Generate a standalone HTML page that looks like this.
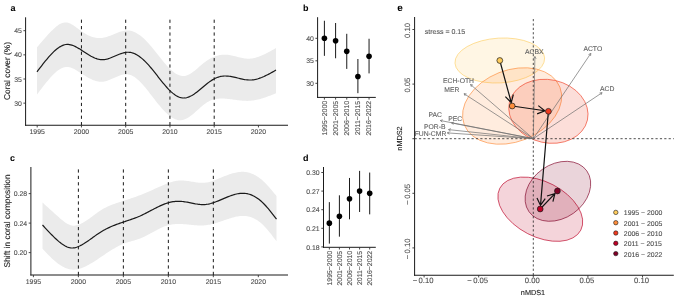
<!DOCTYPE html>
<html><head><meta charset="utf-8"><style>
html,body{margin:0;padding:0;background:#fff;}
svg{display:block;font-family:"Liberation Sans", sans-serif;will-change:transform;text-rendering:geometricPrecision;}
</style></head><body>
<svg width="685" height="300" viewBox="0 0 685 300">
<rect width="685" height="300" fill="#fff"/>
<path d="M37,47.3 L38.2,45.88 L39.4,44.47 L40.6,43.06 L41.8,41.66 L43.01,40.27 L44.21,38.89 L45.41,37.53 L46.61,36.19 L47.81,34.87 L49.01,33.58 L50.21,32.31 L51.41,31.08 L52.61,29.88 L53.81,28.73 L55.02,27.64 L56.22,26.62 L57.42,25.69 L58.62,24.84 L59.82,24.11 L61.02,23.49 L62.22,22.99 L63.42,22.64 L64.62,22.44 L65.82,22.41 L67.03,22.54 L68.23,22.82 L69.43,23.23 L70.63,23.76 L71.83,24.4 L73.03,25.12 L74.23,25.92 L75.43,26.76 L76.63,27.64 L77.83,28.55 L79.04,29.46 L80.24,30.36 L81.44,31.23 L82.64,32.06 L83.84,32.84 L85.04,33.58 L86.24,34.27 L87.44,34.9 L88.64,35.49 L89.84,36.02 L91.05,36.5 L92.25,36.92 L93.45,37.28 L94.65,37.58 L95.85,37.81 L97.05,37.98 L98.25,38.09 L99.45,38.12 L100.65,38.09 L101.85,37.98 L103.06,37.81 L104.26,37.56 L105.46,37.26 L106.66,36.91 L107.86,36.52 L109.06,36.09 L110.26,35.64 L111.46,35.16 L112.66,34.67 L113.86,34.17 L115.07,33.68 L116.27,33.19 L117.47,32.73 L118.67,32.28 L119.87,31.87 L121.07,31.49 L122.27,31.16 L123.47,30.89 L124.67,30.67 L125.87,30.53 L127.08,30.46 L128.28,30.47 L129.48,30.57 L130.68,30.77 L131.88,31.07 L133.08,31.46 L134.28,31.94 L135.48,32.5 L136.68,33.15 L137.88,33.88 L139.09,34.69 L140.29,35.57 L141.49,36.52 L142.69,37.54 L143.89,38.62 L145.09,39.76 L146.29,40.97 L147.49,42.22 L148.69,43.53 L149.89,44.88 L151.1,46.28 L152.3,47.71 L153.5,49.18 L154.7,50.67 L155.9,52.18 L157.1,53.69 L158.3,55.22 L159.5,56.74 L160.7,58.25 L161.9,59.74 L163.11,61.21 L164.31,62.65 L165.51,64.05 L166.71,65.41 L167.91,66.72 L169.11,67.97 L170.31,69.16 L171.51,70.27 L172.71,71.31 L173.91,72.26 L175.12,73.13 L176.32,73.89 L177.52,74.55 L178.72,75.09 L179.92,75.52 L181.12,75.83 L182.32,76 L183.52,76.03 L184.72,75.91 L185.92,75.66 L187.13,75.27 L188.33,74.77 L189.53,74.16 L190.73,73.46 L191.93,72.67 L193.13,71.81 L194.33,70.9 L195.53,69.93 L196.73,68.93 L197.93,67.9 L199.14,66.86 L200.34,65.83 L201.54,64.8 L202.74,63.79 L203.94,62.82 L205.14,61.89 L206.34,61.02 L207.54,60.21 L208.74,59.45 L209.94,58.75 L211.15,58.1 L212.35,57.51 L213.55,56.97 L214.75,56.49 L215.95,56.07 L217.15,55.7 L218.35,55.38 L219.55,55.12 L220.75,54.92 L221.95,54.77 L223.16,54.67 L224.36,54.63 L225.56,54.64 L226.76,54.7 L227.96,54.82 L229.16,54.99 L230.36,55.19 L231.56,55.43 L232.76,55.7 L233.96,55.99 L235.17,56.29 L236.37,56.6 L237.57,56.91 L238.77,57.22 L239.97,57.51 L241.17,57.79 L242.37,58.04 L243.57,58.26 L244.77,58.44 L245.97,58.58 L247.18,58.67 L248.38,58.7 L249.58,58.67 L250.78,58.59 L251.98,58.44 L253.18,58.25 L254.38,58 L255.58,57.71 L256.78,57.37 L257.98,56.99 L259.19,56.57 L260.39,56.11 L261.59,55.62 L262.79,55.1 L263.99,54.54 L265.19,53.97 L266.39,53.36 L267.59,52.74 L268.79,52.1 L269.99,51.44 L271.2,50.77 L272.4,50.08 L273.6,49.39 L274.8,48.7 L276,48 L276,93.3 L274.8,93.78 L273.6,94.26 L272.4,94.73 L271.2,95.2 L269.99,95.67 L268.79,96.12 L267.59,96.56 L266.39,97 L265.19,97.41 L263.99,97.82 L262.79,98.2 L261.59,98.57 L260.39,98.92 L259.19,99.24 L257.98,99.54 L256.78,99.82 L255.58,100.06 L254.38,100.28 L253.18,100.47 L251.98,100.62 L250.78,100.74 L249.58,100.83 L248.38,100.87 L247.18,100.89 L245.97,100.87 L244.77,100.83 L243.57,100.76 L242.37,100.67 L241.17,100.56 L239.97,100.44 L238.77,100.3 L237.57,100.14 L236.37,99.99 L235.17,99.82 L233.96,99.66 L232.76,99.49 L231.56,99.33 L230.36,99.17 L229.16,99.02 L227.96,98.89 L226.76,98.77 L225.56,98.66 L224.36,98.58 L223.16,98.52 L221.95,98.49 L220.75,98.5 L219.55,98.54 L218.35,98.63 L217.15,98.77 L215.95,98.95 L214.75,99.2 L213.55,99.5 L212.35,99.87 L211.15,100.31 L209.94,100.82 L208.74,101.42 L207.54,102.09 L206.34,102.85 L205.14,103.69 L203.94,104.59 L202.74,105.54 L201.54,106.54 L200.34,107.58 L199.14,108.63 L197.93,109.7 L196.73,110.77 L195.53,111.84 L194.33,112.88 L193.13,113.9 L191.93,114.88 L190.73,115.81 L189.53,116.67 L188.33,117.47 L187.13,118.19 L185.92,118.82 L184.72,119.34 L183.52,119.75 L182.32,120.04 L181.12,120.2 L179.92,120.23 L178.72,120.13 L177.52,119.91 L176.32,119.57 L175.12,119.13 L173.91,118.57 L172.71,117.92 L171.51,117.17 L170.31,116.33 L169.11,115.41 L167.91,114.41 L166.71,113.33 L165.51,112.18 L164.31,110.97 L163.11,109.7 L161.9,108.38 L160.7,107.01 L159.5,105.6 L158.3,104.14 L157.1,102.66 L155.9,101.15 L154.7,99.61 L153.5,98.06 L152.3,96.5 L151.1,94.94 L149.89,93.38 L148.69,91.84 L147.49,90.31 L146.29,88.82 L145.09,87.35 L143.89,85.93 L142.69,84.55 L141.49,83.23 L140.29,81.97 L139.09,80.78 L137.88,79.67 L136.68,78.64 L135.48,77.71 L134.28,76.87 L133.08,76.14 L131.88,75.51 L130.68,75.01 L129.48,74.64 L128.28,74.4 L127.08,74.27 L125.87,74.26 L124.67,74.35 L123.47,74.53 L122.27,74.79 L121.07,75.12 L119.87,75.51 L118.67,75.95 L117.47,76.43 L116.27,76.94 L115.07,77.47 L113.86,78.01 L112.66,78.56 L111.46,79.09 L110.26,79.6 L109.06,80.08 L107.86,80.52 L106.66,80.91 L105.46,81.24 L104.26,81.5 L103.06,81.67 L101.85,81.76 L100.65,81.76 L99.45,81.68 L98.25,81.51 L97.05,81.27 L95.85,80.96 L94.65,80.59 L93.45,80.15 L92.25,79.66 L91.05,79.12 L89.84,78.53 L88.64,77.9 L87.44,77.23 L86.24,76.54 L85.04,75.81 L83.84,75.06 L82.64,74.3 L81.44,73.52 L80.24,72.74 L79.04,71.96 L77.83,71.2 L76.63,70.46 L75.43,69.76 L74.23,69.11 L73.03,68.53 L71.83,68.01 L70.63,67.59 L69.43,67.26 L68.23,67.04 L67.03,66.94 L65.82,66.97 L64.62,67.14 L63.42,67.46 L62.22,67.9 L61.02,68.48 L59.82,69.17 L58.62,69.96 L57.42,70.86 L56.22,71.85 L55.02,72.92 L53.81,74.07 L52.61,75.28 L51.41,76.55 L50.21,77.87 L49.01,79.24 L47.81,80.65 L46.61,82.1 L45.41,83.58 L44.21,85.08 L43.01,86.62 L41.8,88.17 L40.6,89.74 L39.4,91.32 L38.2,92.91 L37,94.5Z" fill="#ebebeb" stroke="none"/>
<line x1="81.45" y1="125.25" x2="81.45" y2="17.3" stroke="#1a1a1a" stroke-width="1.0" stroke-dasharray="3.2,3.2"/>
<line x1="125.7" y1="125.25" x2="125.7" y2="17.3" stroke="#1a1a1a" stroke-width="1.0" stroke-dasharray="3.2,3.2"/>
<line x1="169.95" y1="125.25" x2="169.95" y2="17.3" stroke="#1a1a1a" stroke-width="1.0" stroke-dasharray="3.2,3.2"/>
<line x1="214.2" y1="125.25" x2="214.2" y2="17.3" stroke="#1a1a1a" stroke-width="1.0" stroke-dasharray="3.2,3.2"/>
<path d="M37,71.8 L38.2,70.22 L39.4,68.64 L40.6,67.07 L41.8,65.51 L43.01,63.97 L44.21,62.46 L45.41,60.97 L46.61,59.51 L47.81,58.08 L49.01,56.7 L50.21,55.36 L51.41,54.06 L52.61,52.82 L53.81,51.64 L55.02,50.53 L56.22,49.49 L57.42,48.52 L58.62,47.65 L59.82,46.86 L61.02,46.17 L62.22,45.59 L63.42,45.11 L64.62,44.76 L65.82,44.52 L67.03,44.42 L68.23,44.44 L69.43,44.57 L70.63,44.8 L71.83,45.13 L73.03,45.55 L74.23,46.05 L75.43,46.61 L76.63,47.23 L77.83,47.9 L79.04,48.61 L80.24,49.36 L81.44,50.12 L82.64,50.9 L83.84,51.69 L85.04,52.48 L86.24,53.26 L87.44,54.02 L88.64,54.77 L89.84,55.48 L91.05,56.17 L92.25,56.81 L93.45,57.41 L94.65,57.95 L95.85,58.44 L97.05,58.85 L98.25,59.19 L99.45,59.45 L100.65,59.63 L101.85,59.7 L103.06,59.69 L104.26,59.58 L105.46,59.39 L106.66,59.13 L107.86,58.8 L109.06,58.42 L110.26,58 L111.46,57.54 L112.66,57.05 L113.86,56.54 L115.07,56.02 L116.27,55.5 L117.47,54.99 L118.67,54.5 L119.87,54.03 L121.07,53.6 L122.27,53.21 L123.47,52.88 L124.67,52.6 L125.87,52.4 L127.08,52.27 L128.28,52.24 L129.48,52.3 L130.68,52.46 L131.88,52.73 L133.08,53.1 L134.28,53.56 L135.48,54.11 L136.68,54.75 L137.88,55.48 L139.09,56.29 L140.29,57.17 L141.49,58.13 L142.69,59.16 L143.89,60.25 L145.09,61.4 L146.29,62.62 L147.49,63.89 L148.69,65.21 L149.89,66.58 L151.1,67.99 L152.3,69.44 L153.5,70.92 L154.7,72.42 L155.9,73.94 L157.1,75.48 L158.3,77.01 L159.5,78.54 L160.7,80.06 L161.9,81.56 L163.11,83.04 L164.31,84.48 L165.51,85.89 L166.71,87.25 L167.91,88.56 L169.11,89.82 L170.31,91 L171.51,92.11 L172.71,93.15 L173.91,94.1 L175.12,94.96 L176.32,95.73 L177.52,96.4 L178.72,96.96 L179.92,97.4 L181.12,97.73 L182.32,97.94 L183.52,98.02 L184.72,97.97 L185.92,97.8 L187.13,97.51 L188.33,97.12 L189.53,96.64 L190.73,96.07 L191.93,95.41 L193.13,94.69 L194.33,93.9 L195.53,93.05 L196.73,92.16 L197.93,91.23 L199.14,90.26 L200.34,89.28 L201.54,88.27 L202.74,87.26 L203.94,86.25 L205.14,85.25 L206.34,84.27 L207.54,83.31 L208.74,82.38 L209.94,81.49 L211.15,80.66 L212.35,79.88 L213.55,79.16 L214.75,78.52 L215.95,77.96 L217.15,77.47 L218.35,77.06 L219.55,76.72 L220.75,76.45 L221.95,76.24 L223.16,76.1 L224.36,76.02 L225.56,76 L226.76,76.04 L227.96,76.13 L229.16,76.26 L230.36,76.43 L231.56,76.64 L232.76,76.88 L233.96,77.13 L235.17,77.41 L236.37,77.7 L237.57,77.99 L238.77,78.28 L239.97,78.57 L241.17,78.85 L242.37,79.11 L243.57,79.35 L244.77,79.56 L245.97,79.74 L247.18,79.87 L248.38,79.97 L249.58,80.01 L250.78,80 L251.98,79.92 L253.18,79.79 L254.38,79.61 L255.58,79.37 L256.78,79.08 L257.98,78.74 L259.19,78.36 L260.39,77.94 L261.59,77.49 L262.79,76.99 L263.99,76.47 L265.19,75.91 L266.39,75.33 L267.59,74.73 L268.79,74.11 L269.99,73.47 L271.2,72.81 L272.4,72.14 L273.6,71.47 L274.8,70.78 L276,70.1" fill="none" stroke="#1a1a1a" stroke-width="1.2"/>
<line x1="25.6" y1="17.3" x2="25.6" y2="125.75" stroke="#1a1a1a" stroke-width="1.0"/>
<line x1="25.1" y1="125.25" x2="288" y2="125.25" stroke="#1a1a1a" stroke-width="1.0"/>
<line x1="23.4" y1="103.15" x2="25.6" y2="103.15" stroke="#333" stroke-width="0.9"/>
<text x="21.8" y="105.75" font-size="6.9" text-anchor="end" fill="#4d4d4d" font-weight="normal" stroke="#4d4d4d" stroke-width="0.1">30</text>
<line x1="23.4" y1="79" x2="25.6" y2="79" stroke="#333" stroke-width="0.9"/>
<text x="21.8" y="81.6" font-size="6.9" text-anchor="end" fill="#4d4d4d" font-weight="normal" stroke="#4d4d4d" stroke-width="0.1">35</text>
<line x1="23.4" y1="54.85" x2="25.6" y2="54.85" stroke="#333" stroke-width="0.9"/>
<text x="21.8" y="57.45" font-size="6.9" text-anchor="end" fill="#4d4d4d" font-weight="normal" stroke="#4d4d4d" stroke-width="0.1">40</text>
<line x1="23.4" y1="30.7" x2="25.6" y2="30.7" stroke="#333" stroke-width="0.9"/>
<text x="21.8" y="33.3" font-size="6.9" text-anchor="end" fill="#4d4d4d" font-weight="normal" stroke="#4d4d4d" stroke-width="0.1">45</text>
<line x1="37.2" y1="125.25" x2="37.2" y2="127.45" stroke="#333" stroke-width="0.9"/>
<text x="37.2" y="133.6" font-size="6.9" text-anchor="middle" fill="#4d4d4d" font-weight="normal" stroke="#4d4d4d" stroke-width="0.1">1995</text>
<line x1="81.45" y1="125.25" x2="81.45" y2="127.45" stroke="#333" stroke-width="0.9"/>
<text x="81.45" y="133.6" font-size="6.9" text-anchor="middle" fill="#4d4d4d" font-weight="normal" stroke="#4d4d4d" stroke-width="0.1">2000</text>
<line x1="125.7" y1="125.25" x2="125.7" y2="127.45" stroke="#333" stroke-width="0.9"/>
<text x="125.7" y="133.6" font-size="6.9" text-anchor="middle" fill="#4d4d4d" font-weight="normal" stroke="#4d4d4d" stroke-width="0.1">2005</text>
<line x1="169.95" y1="125.25" x2="169.95" y2="127.45" stroke="#333" stroke-width="0.9"/>
<text x="169.95" y="133.6" font-size="6.9" text-anchor="middle" fill="#4d4d4d" font-weight="normal" stroke="#4d4d4d" stroke-width="0.1">2010</text>
<line x1="214.2" y1="125.25" x2="214.2" y2="127.45" stroke="#333" stroke-width="0.9"/>
<text x="214.2" y="133.6" font-size="6.9" text-anchor="middle" fill="#4d4d4d" font-weight="normal" stroke="#4d4d4d" stroke-width="0.1">2015</text>
<line x1="258.45" y1="125.25" x2="258.45" y2="127.45" stroke="#333" stroke-width="0.9"/>
<text x="258.45" y="133.6" font-size="6.9" text-anchor="middle" fill="#4d4d4d" font-weight="normal" stroke="#4d4d4d" stroke-width="0.1">2020</text>
<text x="10.5" y="10.6" font-size="9" text-anchor="start" fill="#000" font-weight="bold">a</text>
<text x="10" y="71" font-size="8.4" text-anchor="middle" fill="#1a1a1a" font-weight="normal" stroke="#1a1a1a" stroke-width="0.1" transform="rotate(-90 10 71)">Coral cover (%)</text>
<path d="M42.5,202.5 L43.68,203.57 L44.85,204.64 L46.03,205.71 L47.2,206.78 L48.38,207.85 L49.56,208.91 L50.73,209.98 L51.91,211.04 L53.08,212.1 L54.26,213.16 L55.43,214.21 L56.61,215.26 L57.79,216.31 L58.96,217.35 L60.14,218.38 L61.31,219.39 L62.49,220.36 L63.67,221.28 L64.84,222.15 L66.02,222.94 L67.19,223.66 L68.37,224.28 L69.55,224.8 L70.72,225.2 L71.9,225.48 L73.07,225.63 L74.25,225.64 L75.42,225.54 L76.6,225.33 L77.78,225.02 L78.95,224.62 L80.13,224.14 L81.3,223.6 L82.48,222.99 L83.66,222.33 L84.83,221.61 L86.01,220.85 L87.18,220.06 L88.36,219.24 L89.54,218.39 L90.71,217.52 L91.89,216.64 L93.06,215.76 L94.24,214.88 L95.41,214.01 L96.59,213.15 L97.77,212.31 L98.94,211.5 L100.12,210.72 L101.29,209.98 L102.47,209.28 L103.65,208.62 L104.82,207.98 L106,207.38 L107.17,206.81 L108.35,206.26 L109.53,205.74 L110.7,205.25 L111.88,204.77 L113.05,204.32 L114.23,203.88 L115.4,203.45 L116.58,203.04 L117.76,202.65 L118.93,202.26 L120.11,201.88 L121.28,201.5 L122.46,201.13 L123.64,200.76 L124.81,200.39 L125.99,200.02 L127.16,199.64 L128.34,199.27 L129.52,198.89 L130.69,198.5 L131.87,198.11 L133.04,197.71 L134.22,197.31 L135.39,196.9 L136.57,196.48 L137.75,196.05 L138.92,195.61 L140.1,195.16 L141.27,194.7 L142.45,194.23 L143.63,193.74 L144.8,193.25 L145.98,192.75 L147.15,192.24 L148.33,191.73 L149.51,191.21 L150.68,190.68 L151.86,190.16 L153.03,189.63 L154.21,189.1 L155.38,188.57 L156.56,188.04 L157.74,187.51 L158.91,186.98 L160.09,186.46 L161.26,185.94 L162.44,185.43 L163.62,184.93 L164.79,184.45 L165.97,183.97 L167.14,183.52 L168.32,183.09 L169.49,182.68 L170.67,182.29 L171.85,181.94 L173.02,181.62 L174.2,181.33 L175.37,181.08 L176.55,180.87 L177.73,180.7 L178.9,180.57 L180.08,180.5 L181.25,180.47 L182.43,180.49 L183.61,180.54 L184.78,180.64 L185.96,180.76 L187.13,180.91 L188.31,181.08 L189.48,181.26 L190.66,181.45 L191.84,181.65 L193.01,181.85 L194.19,182.04 L195.36,182.22 L196.54,182.39 L197.72,182.54 L198.89,182.66 L200.07,182.75 L201.24,182.81 L202.42,182.83 L203.6,182.8 L204.77,182.72 L205.95,182.59 L207.12,182.4 L208.3,182.17 L209.47,181.89 L210.65,181.57 L211.83,181.22 L213,180.83 L214.18,180.42 L215.35,179.98 L216.53,179.52 L217.71,179.05 L218.88,178.56 L220.06,178.07 L221.23,177.57 L222.41,177.07 L223.59,176.58 L224.76,176.1 L225.94,175.63 L227.11,175.17 L228.29,174.74 L229.46,174.32 L230.64,173.93 L231.82,173.56 L232.99,173.22 L234.17,172.92 L235.34,172.64 L236.52,172.41 L237.7,172.2 L238.87,172.05 L240.05,171.93 L241.22,171.86 L242.4,171.83 L243.58,171.86 L244.75,171.94 L245.93,172.08 L247.1,172.27 L248.28,172.52 L249.45,172.83 L250.63,173.2 L251.81,173.63 L252.98,174.12 L254.16,174.68 L255.33,175.29 L256.51,175.97 L257.69,176.71 L258.86,177.52 L260.04,178.39 L261.21,179.33 L262.39,180.34 L263.57,181.41 L264.74,182.55 L265.92,183.74 L267.09,184.97 L268.27,186.26 L269.44,187.58 L270.62,188.93 L271.8,190.31 L272.97,191.71 L274.15,193.13 L275.32,194.56 L276.5,196 L276.5,241.3 L275.32,239.73 L274.15,238.17 L272.97,236.63 L271.8,235.1 L270.62,233.6 L269.44,232.13 L268.27,230.7 L267.09,229.32 L265.92,227.98 L264.74,226.71 L263.57,225.5 L262.39,224.36 L261.21,223.3 L260.04,222.32 L258.86,221.41 L257.69,220.58 L256.51,219.83 L255.33,219.14 L254.16,218.53 L252.98,217.99 L251.81,217.51 L250.63,217.1 L249.45,216.76 L248.28,216.47 L247.1,216.25 L245.93,216.09 L244.75,215.98 L243.58,215.93 L242.4,215.94 L241.22,215.99 L240.05,216.08 L238.87,216.23 L237.7,216.41 L236.52,216.62 L235.34,216.87 L234.17,217.15 L232.99,217.46 L231.82,217.79 L230.64,218.14 L229.46,218.51 L228.29,218.89 L227.11,219.28 L225.94,219.68 L224.76,220.08 L223.59,220.49 L222.41,220.89 L221.23,221.29 L220.06,221.69 L218.88,222.07 L217.71,222.45 L216.53,222.82 L215.35,223.17 L214.18,223.5 L213,223.82 L211.83,224.11 L210.65,224.38 L209.47,224.63 L208.3,224.85 L207.12,225.04 L205.95,225.2 L204.77,225.32 L203.6,225.41 L202.42,225.47 L201.24,225.49 L200.07,225.49 L198.89,225.47 L197.72,225.42 L196.54,225.36 L195.36,225.28 L194.19,225.18 L193.01,225.08 L191.84,224.96 L190.66,224.84 L189.48,224.72 L188.31,224.6 L187.13,224.49 L185.96,224.37 L184.78,224.27 L183.61,224.18 L182.43,224.1 L181.25,224.04 L180.08,224 L178.9,223.98 L177.73,223.99 L176.55,224.02 L175.37,224.09 L174.2,224.18 L173.02,224.31 L171.85,224.47 L170.67,224.68 L169.49,224.92 L168.32,225.21 L167.14,225.55 L165.97,225.93 L164.79,226.35 L163.62,226.81 L162.44,227.3 L161.26,227.82 L160.09,228.37 L158.91,228.94 L157.74,229.54 L156.56,230.15 L155.38,230.77 L154.21,231.4 L153.03,232.04 L151.86,232.68 L150.68,233.32 L149.51,233.95 L148.33,234.58 L147.15,235.2 L145.98,235.8 L144.8,236.38 L143.63,236.94 L142.45,237.48 L141.27,237.99 L140.1,238.46 L138.92,238.9 L137.75,239.31 L136.57,239.7 L135.39,240.06 L134.22,240.41 L133.04,240.75 L131.87,241.08 L130.69,241.41 L129.52,241.75 L128.34,242.1 L127.16,242.46 L125.99,242.84 L124.81,243.25 L123.64,243.7 L122.46,244.17 L121.28,244.69 L120.11,245.23 L118.93,245.81 L117.76,246.42 L116.58,247.05 L115.4,247.71 L114.23,248.39 L113.05,249.09 L111.88,249.81 L110.7,250.54 L109.53,251.29 L108.35,252.06 L107.17,252.83 L106,253.61 L104.82,254.4 L103.65,255.19 L102.47,255.99 L101.29,256.78 L100.12,257.57 L98.94,258.36 L97.77,259.14 L96.59,259.92 L95.41,260.68 L94.24,261.43 L93.06,262.17 L91.89,262.89 L90.71,263.59 L89.54,264.27 L88.36,264.92 L87.18,265.55 L86.01,266.15 L84.83,266.71 L83.66,267.24 L82.48,267.73 L81.3,268.16 L80.13,268.55 L78.95,268.89 L77.78,269.17 L76.6,269.39 L75.42,269.54 L74.25,269.63 L73.07,269.65 L71.9,269.59 L70.72,269.46 L69.55,269.24 L68.37,268.96 L67.19,268.6 L66.02,268.17 L64.84,267.68 L63.67,267.12 L62.49,266.49 L61.31,265.81 L60.14,265.06 L58.96,264.26 L57.79,263.4 L56.61,262.49 L55.43,261.53 L54.26,260.52 L53.08,259.47 L51.91,258.38 L50.73,257.25 L49.56,256.09 L48.38,254.91 L47.2,253.7 L46.03,252.48 L44.85,251.24 L43.68,250 L42.5,248.75Z" fill="#ebebeb" stroke="none"/>
<line x1="78.38" y1="275" x2="78.38" y2="167" stroke="#1a1a1a" stroke-width="1.0" stroke-dasharray="3.2,3.2"/>
<line x1="123.37" y1="275" x2="123.37" y2="167" stroke="#1a1a1a" stroke-width="1.0" stroke-dasharray="3.2,3.2"/>
<line x1="168.35" y1="275" x2="168.35" y2="167" stroke="#1a1a1a" stroke-width="1.0" stroke-dasharray="3.2,3.2"/>
<line x1="213.34" y1="275" x2="213.34" y2="167" stroke="#1a1a1a" stroke-width="1.0" stroke-dasharray="3.2,3.2"/>
<path d="M42.5,225 L43.68,226.28 L44.85,227.56 L46.03,228.84 L47.2,230.1 L48.38,231.35 L49.56,232.59 L50.73,233.82 L51.91,235.02 L53.08,236.19 L54.26,237.35 L55.43,238.47 L56.61,239.56 L57.79,240.62 L58.96,241.63 L60.14,242.59 L61.31,243.5 L62.49,244.34 L63.67,245.11 L64.84,245.81 L66.02,246.42 L67.19,246.94 L68.37,247.37 L69.55,247.69 L70.72,247.9 L71.9,248 L73.07,247.97 L74.25,247.83 L75.42,247.57 L76.6,247.22 L77.78,246.8 L78.95,246.3 L80.13,245.75 L81.3,245.15 L82.48,244.49 L83.66,243.8 L84.83,243.07 L86.01,242.3 L87.18,241.51 L88.36,240.7 L89.54,239.87 L90.71,239.02 L91.89,238.17 L93.06,237.32 L94.24,236.47 L95.41,235.62 L96.59,234.79 L97.77,233.98 L98.94,233.19 L100.12,232.42 L101.29,231.69 L102.47,230.99 L103.65,230.32 L104.82,229.67 L106,229.05 L107.17,228.46 L108.35,227.89 L109.53,227.34 L110.7,226.81 L111.88,226.3 L113.05,225.81 L114.23,225.34 L115.4,224.88 L116.58,224.43 L117.76,224 L118.93,223.57 L120.11,223.16 L121.28,222.75 L122.46,222.35 L123.64,221.95 L124.81,221.56 L125.99,221.17 L127.16,220.78 L128.34,220.39 L129.52,220 L130.69,219.59 L131.87,219.18 L133.04,218.77 L134.22,218.34 L135.39,217.89 L136.57,217.44 L137.75,216.96 L138.92,216.47 L140.1,215.96 L141.27,215.42 L142.45,214.87 L143.63,214.3 L144.8,213.71 L145.98,213.11 L147.15,212.51 L148.33,211.89 L149.51,211.27 L150.68,210.65 L151.86,210.03 L153.03,209.41 L154.21,208.8 L155.38,208.19 L156.56,207.6 L157.74,207.02 L158.91,206.45 L160.09,205.9 L161.26,205.37 L162.44,204.86 L163.62,204.38 L164.79,203.93 L165.97,203.5 L167.14,203.11 L168.32,202.75 L169.49,202.43 L170.67,202.15 L171.85,201.91 L173.02,201.7 L174.2,201.54 L175.37,201.41 L176.55,201.32 L177.73,201.28 L178.9,201.27 L180.08,201.3 L181.25,201.38 L182.43,201.49 L183.61,201.63 L184.78,201.8 L185.96,202 L187.13,202.21 L188.31,202.43 L189.48,202.67 L190.66,202.91 L191.84,203.15 L193.01,203.38 L194.19,203.61 L195.36,203.83 L196.54,204.02 L197.72,204.2 L198.89,204.35 L200.07,204.47 L201.24,204.55 L202.42,204.59 L203.6,204.59 L204.77,204.54 L205.95,204.44 L207.12,204.28 L208.3,204.07 L209.47,203.82 L210.65,203.53 L211.83,203.2 L213,202.83 L214.18,202.43 L215.35,202.01 L216.53,201.56 L217.71,201.1 L218.88,200.62 L220.06,200.12 L221.23,199.62 L222.41,199.11 L223.59,198.61 L224.76,198.1 L225.94,197.6 L227.11,197.12 L228.29,196.64 L229.46,196.19 L230.64,195.75 L231.82,195.34 L232.99,194.96 L234.17,194.6 L235.34,194.28 L236.52,194 L237.7,193.76 L238.87,193.56 L240.05,193.41 L241.22,193.31 L242.4,193.27 L243.58,193.28 L244.75,193.35 L245.93,193.49 L247.1,193.69 L248.28,193.96 L249.45,194.29 L250.63,194.68 L251.81,195.14 L252.98,195.67 L254.16,196.26 L255.33,196.93 L256.51,197.66 L257.69,198.46 L258.86,199.33 L260.04,200.27 L261.21,201.28 L262.39,202.37 L263.57,203.52 L264.74,204.74 L265.92,206.02 L267.09,207.35 L268.27,208.73 L269.44,210.15 L270.62,211.6 L271.8,213.09 L272.97,214.6 L274.15,216.12 L275.32,217.66 L276.5,219.2" fill="none" stroke="#1a1a1a" stroke-width="1.2"/>
<line x1="30.9" y1="167" x2="30.9" y2="275.5" stroke="#1a1a1a" stroke-width="1.0"/>
<line x1="30.4" y1="275" x2="288" y2="275" stroke="#1a1a1a" stroke-width="1.0"/>
<line x1="28.7" y1="252.6" x2="30.9" y2="252.6" stroke="#333" stroke-width="0.9"/>
<text x="27.1" y="255.2" font-size="6.9" text-anchor="end" fill="#4d4d4d" font-weight="normal" stroke="#4d4d4d" stroke-width="0.1">0.20</text>
<line x1="28.7" y1="223.1" x2="30.9" y2="223.1" stroke="#333" stroke-width="0.9"/>
<text x="27.1" y="225.7" font-size="6.9" text-anchor="end" fill="#4d4d4d" font-weight="normal" stroke="#4d4d4d" stroke-width="0.1">0.24</text>
<line x1="28.7" y1="193.6" x2="30.9" y2="193.6" stroke="#333" stroke-width="0.9"/>
<text x="27.1" y="196.2" font-size="6.9" text-anchor="end" fill="#4d4d4d" font-weight="normal" stroke="#4d4d4d" stroke-width="0.1">0.28</text>
<line x1="33.4" y1="275" x2="33.4" y2="277.2" stroke="#333" stroke-width="0.9"/>
<text x="33.4" y="283.5" font-size="6.9" text-anchor="middle" fill="#4d4d4d" font-weight="normal" stroke="#4d4d4d" stroke-width="0.1">1995</text>
<line x1="78.38" y1="275" x2="78.38" y2="277.2" stroke="#333" stroke-width="0.9"/>
<text x="78.38" y="283.5" font-size="6.9" text-anchor="middle" fill="#4d4d4d" font-weight="normal" stroke="#4d4d4d" stroke-width="0.1">2000</text>
<line x1="123.37" y1="275" x2="123.37" y2="277.2" stroke="#333" stroke-width="0.9"/>
<text x="123.37" y="283.5" font-size="6.9" text-anchor="middle" fill="#4d4d4d" font-weight="normal" stroke="#4d4d4d" stroke-width="0.1">2005</text>
<line x1="168.35" y1="275" x2="168.35" y2="277.2" stroke="#333" stroke-width="0.9"/>
<text x="168.35" y="283.5" font-size="6.9" text-anchor="middle" fill="#4d4d4d" font-weight="normal" stroke="#4d4d4d" stroke-width="0.1">2010</text>
<line x1="213.34" y1="275" x2="213.34" y2="277.2" stroke="#333" stroke-width="0.9"/>
<text x="213.34" y="283.5" font-size="6.9" text-anchor="middle" fill="#4d4d4d" font-weight="normal" stroke="#4d4d4d" stroke-width="0.1">2015</text>
<line x1="258.32" y1="275" x2="258.32" y2="277.2" stroke="#333" stroke-width="0.9"/>
<text x="258.32" y="283.5" font-size="6.9" text-anchor="middle" fill="#4d4d4d" font-weight="normal" stroke="#4d4d4d" stroke-width="0.1">2020</text>
<text x="10" y="160.5" font-size="9" text-anchor="start" fill="#000" font-weight="bold">c</text>
<text x="10" y="220.9" font-size="8.4" text-anchor="middle" fill="#1a1a1a" font-weight="normal" stroke="#1a1a1a" stroke-width="0.1" transform="rotate(-90 10 220.9)">Shift in coral composition</text>
<line x1="324.4" y1="20.75" x2="324.4" y2="55.85" stroke="#1a1a1a" stroke-width="1.0"/>
<circle cx="324.4" cy="38.3" r="2.8" fill="#000"/>
<line x1="335.6" y1="23" x2="335.6" y2="58.28" stroke="#1a1a1a" stroke-width="1.0"/>
<circle cx="335.6" cy="40.82" r="2.8" fill="#000"/>
<line x1="346.75" y1="33.8" x2="346.75" y2="68.9" stroke="#1a1a1a" stroke-width="1.0"/>
<circle cx="346.75" cy="51.35" r="2.8" fill="#000"/>
<line x1="357.9" y1="59" x2="357.9" y2="93.2" stroke="#1a1a1a" stroke-width="1.0"/>
<circle cx="357.9" cy="76.55" r="2.8" fill="#000"/>
<line x1="369.05" y1="38.75" x2="369.05" y2="73.4" stroke="#1a1a1a" stroke-width="1.0"/>
<circle cx="369.05" cy="56.3" r="2.8" fill="#000"/>
<line x1="317.6" y1="17.2" x2="317.6" y2="97.9" stroke="#1a1a1a" stroke-width="1.0"/>
<line x1="317.1" y1="97.4" x2="375.8" y2="97.4" stroke="#1a1a1a" stroke-width="1.0"/>
<line x1="315.4" y1="83.3" x2="317.6" y2="83.3" stroke="#333" stroke-width="0.9"/>
<text x="313.8" y="85.9" font-size="6.9" text-anchor="end" fill="#4d4d4d" font-weight="normal" stroke="#4d4d4d" stroke-width="0.1">30</text>
<line x1="315.4" y1="60.8" x2="317.6" y2="60.8" stroke="#333" stroke-width="0.9"/>
<text x="313.8" y="63.4" font-size="6.9" text-anchor="end" fill="#4d4d4d" font-weight="normal" stroke="#4d4d4d" stroke-width="0.1">35</text>
<line x1="315.4" y1="38.3" x2="317.6" y2="38.3" stroke="#333" stroke-width="0.9"/>
<text x="313.8" y="40.9" font-size="6.9" text-anchor="end" fill="#4d4d4d" font-weight="normal" stroke="#4d4d4d" stroke-width="0.1">40</text>
<line x1="324.4" y1="97.4" x2="324.4" y2="99.6" stroke="#333" stroke-width="0.9"/>
<text x="326.7" y="100.9" font-size="6.9" text-anchor="end" fill="#4d4d4d" font-weight="normal" stroke="#4d4d4d" stroke-width="0.1" transform="rotate(-90 326.7 100.9)">1995−2000</text>
<line x1="335.6" y1="97.4" x2="335.6" y2="99.6" stroke="#333" stroke-width="0.9"/>
<text x="337.9" y="100.9" font-size="6.9" text-anchor="end" fill="#4d4d4d" font-weight="normal" stroke="#4d4d4d" stroke-width="0.1" transform="rotate(-90 337.9 100.9)">2001−2005</text>
<line x1="346.75" y1="97.4" x2="346.75" y2="99.6" stroke="#333" stroke-width="0.9"/>
<text x="349.05" y="100.9" font-size="6.9" text-anchor="end" fill="#4d4d4d" font-weight="normal" stroke="#4d4d4d" stroke-width="0.1" transform="rotate(-90 349.05 100.9)">2006−2010</text>
<line x1="357.9" y1="97.4" x2="357.9" y2="99.6" stroke="#333" stroke-width="0.9"/>
<text x="360.2" y="100.9" font-size="6.9" text-anchor="end" fill="#4d4d4d" font-weight="normal" stroke="#4d4d4d" stroke-width="0.1" transform="rotate(-90 360.2 100.9)">2011−2015</text>
<line x1="369.05" y1="97.4" x2="369.05" y2="99.6" stroke="#333" stroke-width="0.9"/>
<text x="371.35" y="100.9" font-size="6.9" text-anchor="end" fill="#4d4d4d" font-weight="normal" stroke="#4d4d4d" stroke-width="0.1" transform="rotate(-90 371.35 100.9)">2016−2022</text>
<text x="303" y="10.5" font-size="9" text-anchor="start" fill="#000" font-weight="bold">b</text>
<line x1="329.35" y1="202.14" x2="329.35" y2="243.61" stroke="#1a1a1a" stroke-width="1.0"/>
<circle cx="329.35" cy="223.15" r="2.8" fill="#000"/>
<line x1="339.4" y1="195.32" x2="339.4" y2="236.67" stroke="#1a1a1a" stroke-width="1.0"/>
<circle cx="339.4" cy="216.21" r="2.8" fill="#000"/>
<line x1="349.5" y1="177.96" x2="349.5" y2="219.31" stroke="#1a1a1a" stroke-width="1.0"/>
<circle cx="349.5" cy="198.73" r="2.8" fill="#000"/>
<line x1="359.6" y1="170.89" x2="359.6" y2="211.99" stroke="#1a1a1a" stroke-width="1.0"/>
<circle cx="359.6" cy="191.1" r="2.8" fill="#000"/>
<line x1="369.7" y1="172.56" x2="369.7" y2="214.35" stroke="#1a1a1a" stroke-width="1.0"/>
<circle cx="369.7" cy="193.33" r="2.8" fill="#000"/>
<line x1="323.5" y1="167" x2="323.5" y2="247.8" stroke="#1a1a1a" stroke-width="1.0"/>
<line x1="323" y1="247.3" x2="375.8" y2="247.3" stroke="#1a1a1a" stroke-width="1.0"/>
<line x1="321.3" y1="246.9" x2="323.5" y2="246.9" stroke="#333" stroke-width="0.9"/>
<text x="319.7" y="249.5" font-size="6.9" text-anchor="end" fill="#4d4d4d" font-weight="normal" stroke="#4d4d4d" stroke-width="0.1">0.18</text>
<line x1="321.3" y1="228.3" x2="323.5" y2="228.3" stroke="#333" stroke-width="0.9"/>
<text x="319.7" y="230.9" font-size="6.9" text-anchor="end" fill="#4d4d4d" font-weight="normal" stroke="#4d4d4d" stroke-width="0.1">0.21</text>
<line x1="321.3" y1="209.7" x2="323.5" y2="209.7" stroke="#333" stroke-width="0.9"/>
<text x="319.7" y="212.3" font-size="6.9" text-anchor="end" fill="#4d4d4d" font-weight="normal" stroke="#4d4d4d" stroke-width="0.1">0.24</text>
<line x1="321.3" y1="191.1" x2="323.5" y2="191.1" stroke="#333" stroke-width="0.9"/>
<text x="319.7" y="193.7" font-size="6.9" text-anchor="end" fill="#4d4d4d" font-weight="normal" stroke="#4d4d4d" stroke-width="0.1">0.27</text>
<line x1="321.3" y1="172.5" x2="323.5" y2="172.5" stroke="#333" stroke-width="0.9"/>
<text x="319.7" y="175.1" font-size="6.9" text-anchor="end" fill="#4d4d4d" font-weight="normal" stroke="#4d4d4d" stroke-width="0.1">0.30</text>
<line x1="329.35" y1="247.3" x2="329.35" y2="249.5" stroke="#333" stroke-width="0.9"/>
<text x="331.65" y="250.8" font-size="6.9" text-anchor="end" fill="#4d4d4d" font-weight="normal" stroke="#4d4d4d" stroke-width="0.1" transform="rotate(-90 331.65 250.8)">1995−2000</text>
<line x1="339.4" y1="247.3" x2="339.4" y2="249.5" stroke="#333" stroke-width="0.9"/>
<text x="341.7" y="250.8" font-size="6.9" text-anchor="end" fill="#4d4d4d" font-weight="normal" stroke="#4d4d4d" stroke-width="0.1" transform="rotate(-90 341.7 250.8)">2001−2005</text>
<line x1="349.5" y1="247.3" x2="349.5" y2="249.5" stroke="#333" stroke-width="0.9"/>
<text x="351.8" y="250.8" font-size="6.9" text-anchor="end" fill="#4d4d4d" font-weight="normal" stroke="#4d4d4d" stroke-width="0.1" transform="rotate(-90 351.8 250.8)">2006−2010</text>
<line x1="359.6" y1="247.3" x2="359.6" y2="249.5" stroke="#333" stroke-width="0.9"/>
<text x="361.9" y="250.8" font-size="6.9" text-anchor="end" fill="#4d4d4d" font-weight="normal" stroke="#4d4d4d" stroke-width="0.1" transform="rotate(-90 361.9 250.8)">2011−2015</text>
<line x1="369.7" y1="247.3" x2="369.7" y2="249.5" stroke="#333" stroke-width="0.9"/>
<text x="372" y="250.8" font-size="6.9" text-anchor="end" fill="#4d4d4d" font-weight="normal" stroke="#4d4d4d" stroke-width="0.1" transform="rotate(-90 372 250.8)">2016−2022</text>
<text x="303" y="160.5" font-size="9" text-anchor="start" fill="#000" font-weight="bold">d</text>
<ellipse cx="499.8" cy="60.5" rx="44.9" ry="22.4" transform="rotate(-3.4 499.8 60.5)" fill="#fecc5c" fill-opacity="0.17" stroke="#fecc5c" stroke-opacity="1.0" stroke-width="0.6"/>
<ellipse cx="512.1" cy="106" rx="51.4" ry="35.8" transform="rotate(-21.5 512.1 106)" fill="#fd8d3c" fill-opacity="0.17" stroke="#fd8d3c" stroke-opacity="1.0" stroke-width="0.6"/>
<ellipse cx="548.4" cy="111.3" rx="40.0" ry="31.6" transform="rotate(12.6 548.4 111.3)" fill="#f03b20" fill-opacity="0.17" stroke="#f03b20" stroke-opacity="1.0" stroke-width="0.6"/>
<ellipse cx="540.3" cy="209.2" rx="45.6" ry="27.5" transform="rotate(27.3 540.3 209.2)" fill="#bd0026" fill-opacity="0.17" stroke="#bd0026" stroke-opacity="1.0" stroke-width="0.6"/>
<ellipse cx="557.9" cy="191.3" rx="35.4" ry="26.9" transform="rotate(-35.2 557.9 191.3)" fill="#800026" fill-opacity="0.17" stroke="#800026" stroke-opacity="1.0" stroke-width="0.6"/>
<line x1="533.3" y1="275.25" x2="533.3" y2="17" stroke="#222" stroke-width="0.8" stroke-dasharray="2.19,2.19"/>
<line x1="414.6" y1="138.7" x2="673.8" y2="138.7" stroke="#222" stroke-width="0.8" stroke-dasharray="2.19,2.19"/>
<path d="M533.3,138.7 L534.9,56.5 M536.1,58.81 L534.9,56.5 L533.61,58.76" fill="none" stroke="#6e6e6e" stroke-width="0.7"/>
<text x="534.3" y="54" font-size="6.8" text-anchor="middle" fill="#606060" font-weight="normal" stroke="#606060" stroke-width="0.1">ACBX</text>
<path d="M533.3,138.7 L590.8,53.4 M590.56,55.99 L590.8,53.4 L588.49,54.6" fill="none" stroke="#6e6e6e" stroke-width="0.7"/>
<text x="592.8" y="51.3" font-size="6.8" text-anchor="middle" fill="#606060" font-weight="normal" stroke="#606060" stroke-width="0.1">ACTO</text>
<path d="M533.3,138.7 L602.1,92.7 M600.9,95 L602.1,92.7 L599.51,92.93" fill="none" stroke="#6e6e6e" stroke-width="0.7"/>
<text x="607.2" y="90.9" font-size="6.8" text-anchor="middle" fill="#606060" font-weight="normal" stroke="#606060" stroke-width="0.1">ACD</text>
<path d="M533.3,138.7 L470.5,84.5 M473.04,85.05 L470.5,84.5 L471.41,86.93" fill="none" stroke="#6e6e6e" stroke-width="0.7"/>
<text x="458.5" y="82.7" font-size="6.8" text-anchor="middle" fill="#606060" font-weight="normal" stroke="#606060" stroke-width="0.1">ECH-OTH</text>
<path d="M533.3,138.7 L464,93.7 M466.59,93.9 L464,93.7 L465.23,95.99" fill="none" stroke="#6e6e6e" stroke-width="0.7"/>
<text x="451.8" y="92.1" font-size="6.8" text-anchor="middle" fill="#606060" font-weight="normal" stroke="#606060" stroke-width="0.1">MER</text>
<path d="M533.3,138.7 L440.3,120.5 M442.78,119.71 L440.3,120.5 L442.3,122.16" fill="none" stroke="#6e6e6e" stroke-width="0.7"/>
<text x="435.3" y="116.9" font-size="6.8" text-anchor="middle" fill="#606060" font-weight="normal" stroke="#606060" stroke-width="0.1">PAC</text>
<path d="M533.3,138.7 L451.5,122.9 M453.98,122.11 L451.5,122.9 L453.5,124.56" fill="none" stroke="#6e6e6e" stroke-width="0.7"/>
<text x="455.2" y="120.7" font-size="6.8" text-anchor="middle" fill="#606060" font-weight="normal" stroke="#606060" stroke-width="0.1">PEC</text>
<path d="M533.3,138.7 L448.5,129.6 M450.9,128.6 L448.5,129.6 L450.64,131.08" fill="none" stroke="#6e6e6e" stroke-width="0.7"/>
<text x="434.8" y="128.7" font-size="6.8" text-anchor="middle" fill="#606060" font-weight="normal" stroke="#606060" stroke-width="0.1">POR-B</text>
<path d="M533.3,138.7 L447.3,132.9 M449.66,131.81 L447.3,132.9 L449.49,134.3" fill="none" stroke="#6e6e6e" stroke-width="0.7"/>
<text x="430.5" y="135.8" font-size="6.8" text-anchor="middle" fill="#606060" font-weight="normal" stroke="#606060" stroke-width="0.1">FUN-CMR</text>
<path d="M499.8,60.5 L511.25,102.53 M505.38,96.66 L511.25,102.53 L513.34,94.49" fill="none" stroke="#111" stroke-width="1.2"/>
<path d="M512.2,106 L544.84,110.78 M537.11,113.82 L544.84,110.78 L538.31,105.65" fill="none" stroke="#111" stroke-width="1.2"/>
<path d="M548.4,111.3 L540.5,205.41 M536.99,197.89 L540.5,205.41 L545.21,198.58" fill="none" stroke="#111" stroke-width="1.2"/>
<path d="M540.2,209 L554.91,193.6 M552.92,201.66 L554.91,193.6 L546.96,195.96" fill="none" stroke="#111" stroke-width="1.2"/>
<circle cx="499.8" cy="60.5" r="2.9" fill="#fecc5c" stroke="#1a1a1a" stroke-width="0.7"/>
<circle cx="512.2" cy="106" r="2.9" fill="#fd8d3c" stroke="#1a1a1a" stroke-width="0.7"/>
<circle cx="548.4" cy="111.3" r="2.9" fill="#f03b20" stroke="#1a1a1a" stroke-width="0.7"/>
<circle cx="540.2" cy="209" r="2.9" fill="#bd0026" stroke="#1a1a1a" stroke-width="0.7"/>
<circle cx="557.4" cy="191" r="2.9" fill="#800026" stroke="#1a1a1a" stroke-width="0.7"/>
<line x1="414.6" y1="17" x2="414.6" y2="275.75" stroke="#1a1a1a" stroke-width="1.0"/>
<line x1="414.1" y1="275.25" x2="673.8" y2="275.25" stroke="#1a1a1a" stroke-width="1.0"/>
<line x1="424.1" y1="275.25" x2="424.1" y2="277.45" stroke="#333" stroke-width="0.9"/>
<text x="423.1" y="283.3" font-size="7.7" text-anchor="middle" fill="#4d4d4d" font-weight="normal" stroke="#4d4d4d" stroke-width="0.1">−<tspan dx="1.4">0.10</tspan></text>
<line x1="478.7" y1="275.25" x2="478.7" y2="277.45" stroke="#333" stroke-width="0.9"/>
<text x="477.7" y="283.3" font-size="7.7" text-anchor="middle" fill="#4d4d4d" font-weight="normal" stroke="#4d4d4d" stroke-width="0.1">−<tspan dx="1.4">0.05</tspan></text>
<line x1="533.3" y1="275.25" x2="533.3" y2="277.45" stroke="#333" stroke-width="0.9"/>
<text x="532.3" y="283.3" font-size="7.7" text-anchor="middle" fill="#4d4d4d" font-weight="normal" stroke="#4d4d4d" stroke-width="0.1">0.00</text>
<line x1="587.9" y1="275.25" x2="587.9" y2="277.45" stroke="#333" stroke-width="0.9"/>
<text x="586.9" y="283.3" font-size="7.7" text-anchor="middle" fill="#4d4d4d" font-weight="normal" stroke="#4d4d4d" stroke-width="0.1">0.05</text>
<line x1="642.5" y1="275.25" x2="642.5" y2="277.45" stroke="#333" stroke-width="0.9"/>
<text x="641.5" y="283.3" font-size="7.7" text-anchor="middle" fill="#4d4d4d" font-weight="normal" stroke="#4d4d4d" stroke-width="0.1">0.10</text>
<line x1="412.4" y1="247.9" x2="414.6" y2="247.9" stroke="#333" stroke-width="0.9"/>
<text x="410.2" y="248.9" font-size="7.7" text-anchor="middle" fill="#4d4d4d" font-weight="normal" stroke="#4d4d4d" stroke-width="0.1" transform="rotate(-90 410.2 248.9)">−<tspan dx="1.4">0.10</tspan></text>
<line x1="412.4" y1="193.3" x2="414.6" y2="193.3" stroke="#333" stroke-width="0.9"/>
<text x="410.2" y="194.3" font-size="7.7" text-anchor="middle" fill="#4d4d4d" font-weight="normal" stroke="#4d4d4d" stroke-width="0.1" transform="rotate(-90 410.2 194.3)">−<tspan dx="1.4">0.05</tspan></text>
<line x1="412.4" y1="138.7" x2="414.6" y2="138.7" stroke="#333" stroke-width="0.9"/>
<line x1="412.4" y1="84.1" x2="414.6" y2="84.1" stroke="#333" stroke-width="0.9"/>
<text x="410.2" y="85.1" font-size="7.7" text-anchor="middle" fill="#4d4d4d" font-weight="normal" stroke="#4d4d4d" stroke-width="0.1" transform="rotate(-90 410.2 85.1)">0.05</text>
<line x1="412.4" y1="29.5" x2="414.6" y2="29.5" stroke="#333" stroke-width="0.9"/>
<text x="410.2" y="30.5" font-size="7.7" text-anchor="middle" fill="#4d4d4d" font-weight="normal" stroke="#4d4d4d" stroke-width="0.1" transform="rotate(-90 410.2 30.5)">0.10</text>
<text x="533" y="294.6" font-size="7.3" text-anchor="middle" fill="#1a1a1a" font-weight="normal" stroke="#1a1a1a" stroke-width="0.1">nMDS1</text>
<text x="402.3" y="138.5" font-size="7.3" text-anchor="middle" fill="#1a1a1a" font-weight="normal" stroke="#1a1a1a" stroke-width="0.1" transform="rotate(-90 402.3 138.5)">nMDS2</text>
<text x="397.2" y="11.1" font-size="10" text-anchor="start" fill="#000" font-weight="bold">e</text>
<text x="424.8" y="34.1" font-size="7.0" text-anchor="start" fill="#555" font-weight="normal" stroke="#555" stroke-width="0.1">stress = 0.15</text>
<circle cx="615.8" cy="212.4" r="2.2" fill="#fecc5c" stroke="#1a1a1a" stroke-width="0.6"/>
<text x="623.8" y="215.4" font-size="6.9" text-anchor="start" fill="#4d4d4d" font-weight="normal" stroke="#4d4d4d" stroke-width="0.1">1995 − 2000</text>
<circle cx="615.8" cy="222.7" r="2.2" fill="#fd8d3c" stroke="#1a1a1a" stroke-width="0.6"/>
<text x="623.8" y="225.7" font-size="6.9" text-anchor="start" fill="#4d4d4d" font-weight="normal" stroke="#4d4d4d" stroke-width="0.1">2001 − 2005</text>
<circle cx="615.8" cy="233" r="2.2" fill="#f03b20" stroke="#1a1a1a" stroke-width="0.6"/>
<text x="623.8" y="236" font-size="6.9" text-anchor="start" fill="#4d4d4d" font-weight="normal" stroke="#4d4d4d" stroke-width="0.1">2006 − 2010</text>
<circle cx="615.8" cy="243.3" r="2.2" fill="#bd0026" stroke="#1a1a1a" stroke-width="0.6"/>
<text x="623.8" y="246.3" font-size="6.9" text-anchor="start" fill="#4d4d4d" font-weight="normal" stroke="#4d4d4d" stroke-width="0.1">2011 − 2015</text>
<circle cx="615.8" cy="253.6" r="2.2" fill="#800026" stroke="#1a1a1a" stroke-width="0.6"/>
<text x="623.8" y="256.6" font-size="6.9" text-anchor="start" fill="#4d4d4d" font-weight="normal" stroke="#4d4d4d" stroke-width="0.1">2016 − 2022</text>
</svg>
</body></html>
